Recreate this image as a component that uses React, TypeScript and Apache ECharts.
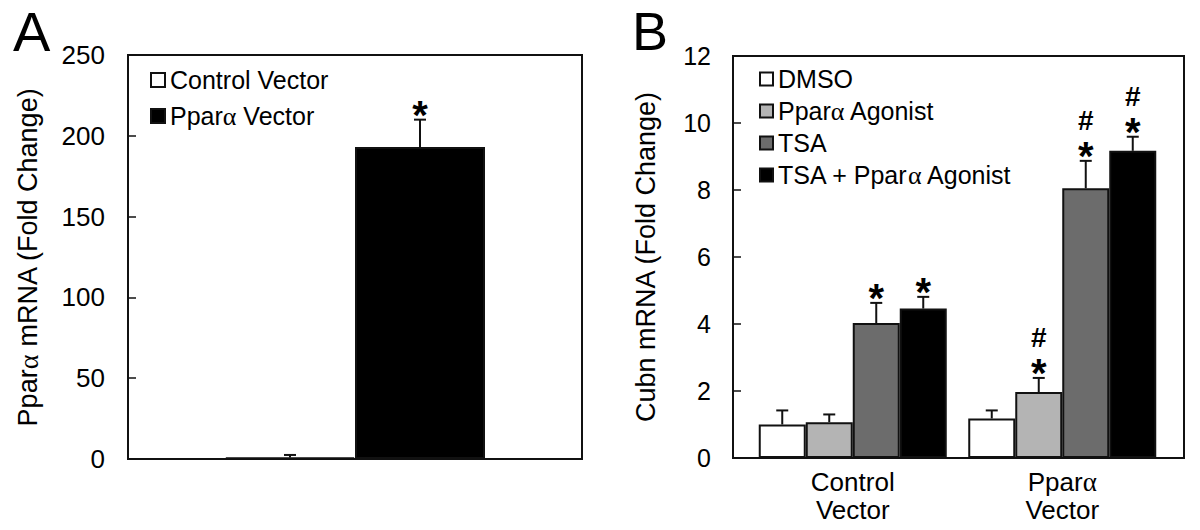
import React, { useEffect, useRef } from "react";
import * as echarts from "echarts";

const FONT = '"Liberation Sans", Arial, Helvetica, sans-serif';
const GREEK = '"Liberation Serif", "DejaVu Serif", serif';

// ---------- Panel A data ----------
const aCategories = [""];
const aSeriesNames = ["Control Vector", "Pparα Vector"];
const aControlValues = [1.0];
const aControlErrors = [1.5];
const aControlMarks = [""];
const aPparValues = [193];
const aPparErrors = [17];
const aPparMarks = ["*"];
const aYTicks = { min: 0, max: 250, interval: 50 };

// ---------- Panel B data ----------
const bCategories = ["Control\nVector", "Pparα\nVector"];
const bSeriesNames = ["DMSO", "Pparα Agonist", "TSA", "TSA + Pparα Agonist"];
const bDmsoValues = [1.0, 1.18];
const bDmsoErrors = [0.42, 0.24];
const bDmsoMarks = ["", ""];
const bAgonistValues = [1.07, 1.97];
const bAgonistErrors = [0.23, 0.42];
const bAgonistMarks = ["", "#*"];
const bTsaValues = [4.03, 8.05];
const bTsaErrors = [0.6, 0.82];
const bTsaMarks = ["*", "#*"];
const bComboValues = [4.46, 9.17];
const bComboErrors = [0.35, 0.42];
const bComboMarks = ["*", "#*"];
const bYTicks = { min: 0, max: 12, interval: 2 };

const bColors = ["#ffffff", "#b4b4b4", "#6c6c6c", "#000000"];
const aColors = ["#ffffff", "#000000"];

const greekify = (s: string) => s.replace(/α/g, "{a|α}");

const richA = (size: number) => ({
  a: { fontFamily: GREEK, fontSize: size + 1, color: "#000" },
});

function errorSeries(
  name: string,
  values: number[],
  errors: number[],
  marks: string[],
  offset: number,
  xAxisIndex: number,
  yAxisIndex: number
) {
  return {
    type: "custom",
    name: name + " err",
    xAxisIndex,
    yAxisIndex,
    silent: true,
    z: 5,
    data: values.map((v, i) => [i, v, errors[i]]),
    renderItem: (params: any, api: any) => {
      const cat = api.value(0);
      const v = api.value(1);
      const e = api.value(2);
      const base = api.coord([cat, v]);
      const top = api.coord([cat, v + e]);
      const x = base[0] + offset;
      const mark = marks[params.dataIndex] || "";
      const lineStyle = { stroke: "#111", lineWidth: 2 };
      const children: any[] = [
        { type: "line", shape: { x1: x, y1: base[1], x2: x, y2: top[1] }, style: lineStyle },
        { type: "line", shape: { x1: x - 6, y1: top[1], x2: x + 6, y2: top[1] }, style: lineStyle },
      ];
      if (mark.includes("*")) {
        children.push({
          type: "text",
          x,
          y: top[1] - 5,
          style: {
            text: "*",
            fontSize: 40,
            lineHeight: 20,
            fontWeight: "bold",
            fontFamily: FONT,
            fill: "#000",
            align: "center",
            verticalAlign: "middle",
          },
        });
      }
      if (mark.includes("#")) {
        children.push({
          type: "text",
          x,
          y: top[1] - 40,
          style: {
            text: "#",
            fontSize: 28,
            lineHeight: 20,
            fontWeight: "bold",
            fontFamily: FONT,
            fill: "#000",
            align: "center",
            verticalAlign: "middle",
          },
        });
      }
      return { type: "group", children };
    },
  };
}

export default function App() {
  const ref = useRef<HTMLDivElement>(null);

  useEffect(() => {
    if (!ref.current) return;
    const chart = echarts.init(ref.current, undefined, { renderer: "svg" });

    const nameStyle = { fontSize: 27, color: "#000", fontFamily: FONT, rich: richA(27) };
    const frameBorder = { show: true, borderColor: "#111", borderWidth: 2, backgroundColor: "transparent" };

    const aBarW = 130;
    const bBarW = 47;

    const option: any = {
      animation: false,
      backgroundColor: "#fff",
      textStyle: { fontFamily: FONT },
      graphic: [
        { type: "text", left: 13, top: 3, style: { text: "A", fontSize: 56, lineHeight: 48, fontFamily: FONT, fill: "#000" } },
        { type: "text", left: 632, top: 4, style: { text: "B", fontSize: 54, lineHeight: 46, fontFamily: FONT, fill: "#000" } },
      ],
      grid: [
        { left: 128, right: 618, top: 55, bottom: 71, ...frameBorder },
        { left: 733, right: 16, top: 56, bottom: 72, ...frameBorder },
        { left: 748, right: 33, top: 56, bottom: 72, show: false },
      ],
      legend: [
        {
          data: aSeriesNames,
          orient: "vertical",
          left: 145,
          top: 62,
          icon: "rect",
          itemWidth: 14,
          itemHeight: 14,
          itemGap: 10,
          formatter: greekify,
          textStyle: { fontSize: 25, lineHeight: 26, color: "#000", fontFamily: FONT, rich: richA(25) },
          selectedMode: false,
        },
        {
          data: bSeriesNames,
          orient: "vertical",
          left: 754,
          top: 61,
          icon: "rect",
          itemWidth: 13,
          itemHeight: 13,
          itemGap: 6,
          formatter: greekify,
          textStyle: { fontSize: 25, lineHeight: 26, color: "#000", fontFamily: FONT, rich: richA(25) },
          selectedMode: false,
        },
      ],
      xAxis: [
        {
          type: "category",
          gridIndex: 0,
          data: aCategories,
          axisLine: { show: false },
          axisTick: { show: false },
          axisLabel: { show: false },
        },
        {
          type: "category",
          gridIndex: 1,
          data: bCategories,
          show: false,
        },
        {
          type: "category",
          gridIndex: 2,
          data: bCategories,
          axisLine: { show: false },
          axisTick: { show: false },
          axisLabel: {
            margin: 10,
            fontSize: 26,
            lineHeight: 28,
            color: "#000",
            fontFamily: FONT,
            formatter: greekify,
            rich: richA(26),
          },
        },
      ],
      yAxis: [
        {
          type: "value",
          gridIndex: 0,
          ...aYTicks,
          name: greekify("Pparα mRNA (Fold Change)"),
          nameLocation: "middle",
          nameGap: 86,
          nameTextStyle: nameStyle,
          axisLine: { show: false },
          axisTick: { show: true, inside: true, length: 8, lineStyle: { color: "#111", width: 1.5 } },
          axisLabel: { fontSize: 26, color: "#000", fontFamily: FONT, margin: 23 },
          splitLine: { show: false },
        },
        {
          type: "value",
          gridIndex: 1,
          ...bYTicks,
          name: "Cubn mRNA (Fold Change)",
          nameLocation: "middle",
          nameGap: 74,
          nameTextStyle: nameStyle,
          axisLine: { show: false },
          axisTick: { show: true, inside: true, length: 8, lineStyle: { color: "#111", width: 1.5 } },
          axisLabel: { fontSize: 25, color: "#000", fontFamily: FONT, margin: 22 },
          splitLine: { show: false },
        },
        {
          type: "value",
          gridIndex: 2,
          ...bYTicks,
          show: false,
          splitLine: { show: false },
        },
      ],
      series: [
        {
          type: "bar",
          name: aSeriesNames[0],
          xAxisIndex: 0,
          yAxisIndex: 0,
          data: aControlValues,
          barWidth: aBarW,
          barGap: "0%",
          itemStyle: { color: aColors[0], borderColor: "#111", borderWidth: 2 },
        },
        {
          type: "bar",
          name: aSeriesNames[1],
          xAxisIndex: 0,
          yAxisIndex: 0,
          data: aPparValues,
          barWidth: aBarW,
          barGap: "0%",
          itemStyle: { color: aColors[1], borderColor: "#111", borderWidth: 2 },
        },
        errorSeries("a0", aControlValues, aControlErrors, aControlMarks, -aBarW / 2, 0, 0),
        errorSeries("a1", aPparValues, aPparErrors, aPparMarks, aBarW / 2, 0, 0),
        ...[bDmsoValues, bAgonistValues, bTsaValues, bComboValues].map((vals, i) => ({
          type: "bar",
          name: bSeriesNames[i],
          xAxisIndex: 2,
          yAxisIndex: 2,
          data: vals,
          barWidth: bBarW,
          barGap: "0%",
          itemStyle: { color: bColors[i], borderColor: "#111", borderWidth: 2 },
        })),
        errorSeries("b0", bDmsoValues, bDmsoErrors, bDmsoMarks, -1.5 * bBarW, 2, 2),
        errorSeries("b1", bAgonistValues, bAgonistErrors, bAgonistMarks, -0.5 * bBarW, 2, 2),
        errorSeries("b2", bTsaValues, bTsaErrors, bTsaMarks, 0.5 * bBarW, 2, 2),
        errorSeries("b3", bComboValues, bComboErrors, bComboMarks, 1.5 * bBarW, 2, 2),
      ],
    };

    chart.setOption(option);
    return () => chart.dispose();
  }, []);

  return <div ref={ref} style={{ width: 1200, height: 530, margin: -8 }} />;
}
